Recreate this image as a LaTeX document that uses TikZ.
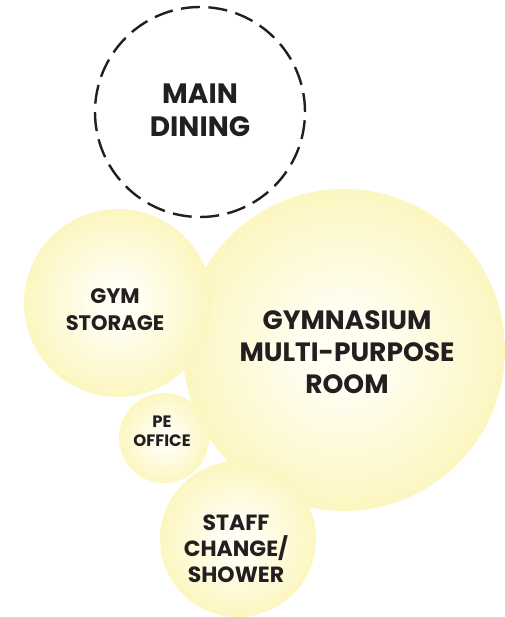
\documentclass[tikz,border=0pt]{standalone}
\usepackage{fontspec}
\setmainfont{Poppins}
\definecolor{bubbleedge}{RGB}{250,239,148}
\definecolor{bubblecore}{RGB}{255,254,242}
\definecolor{inktext}{RGB}{35,31,32}
\pgfdeclareradialshading{bubble}{\pgfpoint{0bp}{0bp}}{%
  color(0bp)=(bubblecore); color(6bp)=(bubblecore);
  color(42bp)=(bubbleedge); color(50bp)=(bubbleedge)}
\begin{document}
\begin{tikzpicture}[x=1pt,y=-1pt,
  room/.style={circle, inner sep=0pt, draw=none, shading=bubble},
  future/.style={circle, inner sep=0pt, draw=inktext, line width=2.4pt,
    dash pattern=on 19pt off 8.5pt},
  roomname/.style={text=inktext, align=center, font=\bfseries, inner sep=0pt}]
\useasboundingbox (0,0) rectangle (504,617);

% spaces of the gym cluster
\node[room, minimum size=322pt] (gym)     at (344,350) {};
\node[room, minimum size=188pt] (storage) at (118,303) {};
\node[room, minimum size=90pt]  (pe)      at (164,438) {};
\node[room, minimum size=156pt] (staff)   at (238,539) {};

% adjacent space, outlined only
\node[future, minimum size=210pt] (dining) at (200,112) {};

% room names
\node[roomname, font=\bfseries\fontsize{28}{33}\selectfont] (diningname) at (200,110) {MAIN\\DINING};
\node[roomname, font=\bfseries\fontsize{26.5}{32}\selectfont] (gymname) at (347,352) {GYMNASIUM\\MULTI-PURPOSE\\ROOM};
\node[roomname, font=\bfseries\fontsize{21}{27}\selectfont] (storagename) at (115,310) {GYM\\STORAGE};
\node[roomname, font=\bfseries\fontsize{16.5}{19}\selectfont] (pename) at (162,431) {PE\\OFFICE};
\node[roomname, font=\bfseries\fontsize{22}{26}\selectfont] (staffname) at (236,549) {STAFF\\CHANGE/\\SHOWER};
\end{tikzpicture}
\end{document}
